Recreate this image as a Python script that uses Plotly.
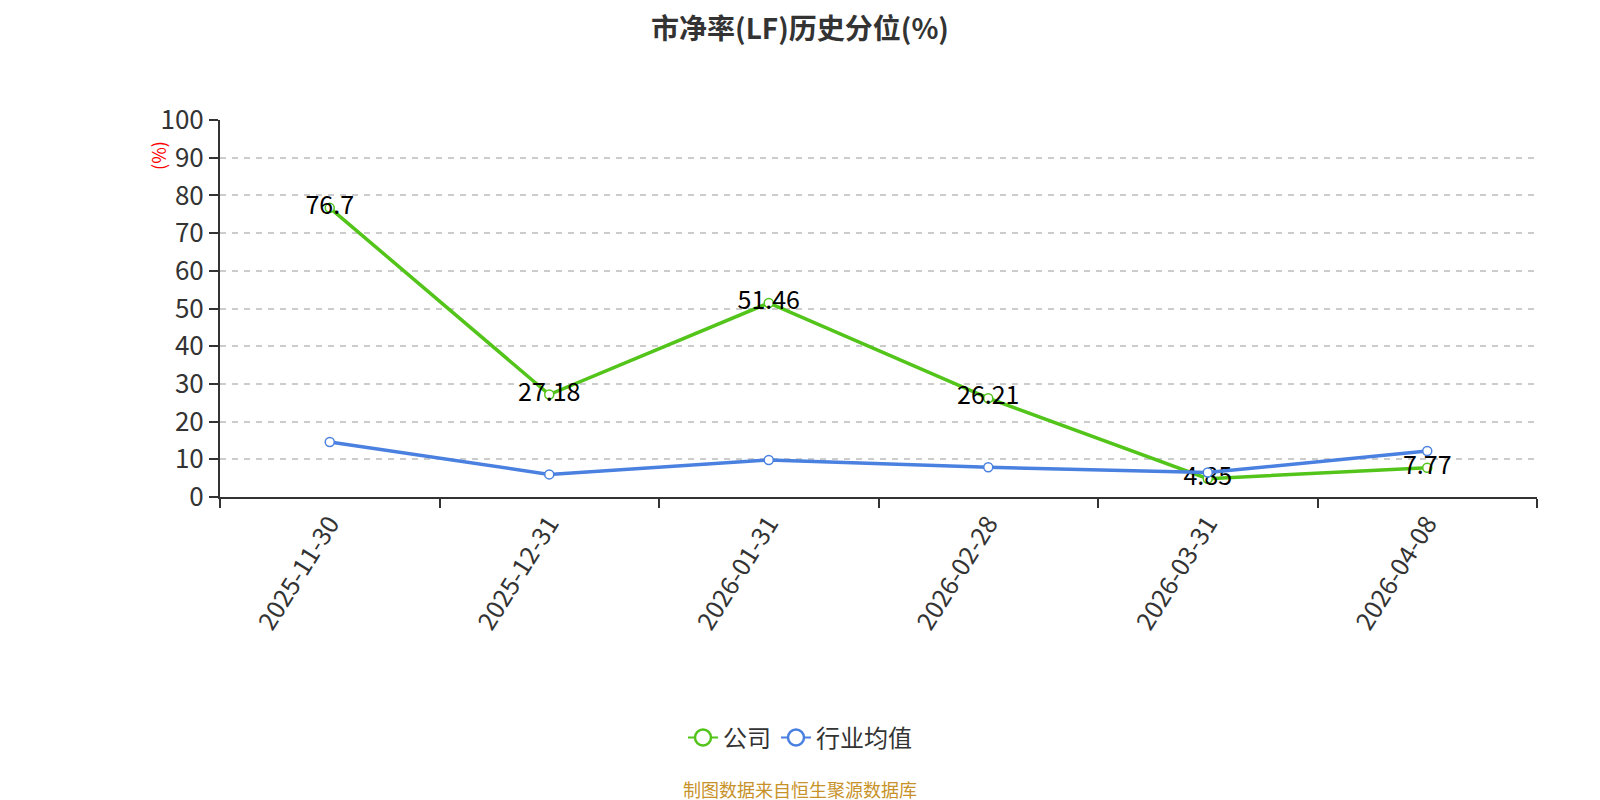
import plotly.graph_objects as go

dates = ["2025-11-30", "2025-12-31", "2026-01-31", "2026-02-28", "2026-03-31", "2026-04-08"]
company = [76.7, 27.18, 51.46, 26.21, 4.85, 7.77]
industry = [14.6, 6.0, 9.8, 7.9, 6.5, 12.2]
y_ticks = [0, 10, 20, 30, 40, 50, 60, 70, 80, 90, 100]

FONT = "Noto Sans CJK SC, Noto Sans, sans-serif"
GREEN = "#52c41a"
BLUE = "#4a80e0"

# the page body adds an 8px margin, so margins are shifted by -8 to compensate
MID_X = (792 - 212) / 1317  # canvas centre in paper coords

fig = go.Figure()
fig.add_trace(go.Scatter(
    x=dates, y=company, name="公司", mode="lines+markers+text", showlegend=False,
    line=dict(color=GREEN, width=3.5),
    marker=dict(symbol="circle", size=9, color="white", line=dict(color=GREEN, width=1.5)),
    text=[str(v) for v in company], textposition="middle center",
    textfont=dict(size=25, color="#000000", family=FONT),
))
fig.add_trace(go.Scatter(
    x=dates, y=industry, name="行业均值", mode="lines+markers", showlegend=False,
    line=dict(color=BLUE, width=3.5),
    marker=dict(symbol="circle", size=9, color="white", line=dict(color=BLUE, width=1.5)),
))
# legend entries with bigger symbols
for name, color in [("公司", GREEN), ("行业均值", BLUE)]:
    fig.add_trace(go.Scatter(
        x=[None], y=[None], name=name, mode="lines+markers",
        line=dict(color=color, width=2),
        marker=dict(symbol="circle", size=16, color="white", line=dict(color=color, width=2.5)),
    ))

fig.update_layout(
    width=1600, height=800,
    paper_bgcolor="white", plot_bgcolor="white",
    margin=dict(l=212, r=71, t=112, b=311),
    font=dict(family=FONT, color="#333333"),
    title=dict(text="<b>市净率(LF)历史分位(%)</b>", x=0.495, xanchor="center",
               y=0.974, yanchor="middle", font=dict(size=28, color="#333333")),
    showlegend=True,
    legend=dict(orientation="h", x=MID_X, xanchor="center", y=-0.639, yanchor="middle",
                font=dict(size=24, color="#333333")),
    annotations=[
        dict(text="(%)", xref="paper", yref="paper", x=-0.047, y=0.905,
             xanchor="center", yanchor="middle",
             showarrow=False, textangle=-90, font=dict(size=18, color="red")),
        dict(text="制图数据来自恒生聚源数据库", xref="paper", yref="paper", x=MID_X, y=-0.775,
             xanchor="center", yanchor="middle",
             showarrow=False, font=dict(size=18, color="#c8922a")),
    ],
)
fig.update_xaxes(
    type="category", range=[-0.5, 5.5], tickson="boundaries", automargin=False,
    showline=True, linecolor="#333333", linewidth=2,
    ticks="outside", ticklen=9, tickcolor="#333333", tickwidth=2,
    tickangle=-58, tickfont=dict(size=25, color="#333333"),
    showgrid=False,
)
fig.update_yaxes(
    range=[0, 100], tickvals=y_ticks, automargin=False,
    showline=True, linecolor="#333333", linewidth=2,
    ticks="outside", ticklen=9, tickcolor="#333333", tickwidth=2,
    tickfont=dict(size=26, color="#333333"),
    showgrid=True, gridcolor="#cccccc", griddash="6px,6px", gridwidth=1.5,
    zeroline=False,
)

fig.write_html("out.html")
